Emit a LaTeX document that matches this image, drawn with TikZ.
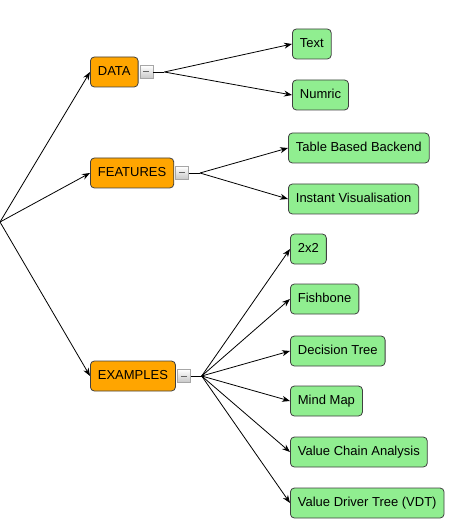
\documentclass[tikz,border=0pt]{standalone}
\usepackage{fontspec}
\setmainfont{Liberation Sans}
\usetikzlibrary{positioning,arrows.meta}
\definecolor{topic}{HTML}{FFA500}
\definecolor{leaf}{HTML}{90EE90}
\tikzset{
  topicbox/.style={draw=black!75,fill=topic,rounded corners=4,minimum height=30,inner xsep=7.5,
    text height=9.4,text depth=2.7,anchor=west,font=\fontsize{13}{15}\selectfont},
  leafbox/.style={topicbox,fill=leaf},
  toggle/.style={draw=black!35,top color=white,bottom color=black!22,minimum size=13,inner sep=0,anchor=west},
  arr/.style={-{Stealth[length=8,width=6]}},
}
\begin{document}
\begin{tikzpicture}[x=1pt,y=-1pt,line width=0.8pt]
		\useasboundingbox (0,0) rectangle (450,526);
		\coordinate (root) at (0,222);
		% first level
		\node[topicbox] (data) at (90,72) {DATA};
		\node[topicbox] (feat) at (90,173) {FEATURES};
		\node[topicbox] (exam) at (90,376) {EXAMPLES};
		\foreach \t in {data,feat,exam} {
			\draw[arr] (root) -- (\t.west);
			\node[toggle] (\t-tg) at ([xshift=1]\t.east) {\color{black!60}\rule{6pt}{1pt}};
			\coordinate (\t-sp) at ([xshift=11]\t-tg.east);
			\draw (\t-tg.east) -- (\t-sp);
		}
		% leaves
		\node[leafbox] (text) at (292,44) {Text};
		\node[leafbox] (numr) at (292,95) {Numric};
		\node[leafbox] (tbb) at (288,148) {Table Based Backend};
		\node[leafbox] (inst) at (288,199) {Instant Visualisation};
		\node[leafbox] (twox) at (290,249) {2x2};
		\node[leafbox] (fish) at (290,299) {Fishbone};
		\node[leafbox] (dect) at (290,351) {Decision Tree};
		\node[leafbox] (mind) at (290,401) {Mind Map};
		\node[leafbox] (vca) at (290,452) {Value Chain Analysis};
		\node[leafbox] (vdt) at (290,503) {Value Driver Tree (VDT)};
		\foreach \l in {text,numr} \draw[arr] (data-sp) -- (\l.west);
		\foreach \l in {tbb,inst} \draw[arr] (feat-sp) -- (\l.west);
		\foreach \l in {twox,fish,dect,mind,vca,vdt} \draw[arr] (exam-sp) -- (\l.west);
	\end{tikzpicture}
\end{document}
